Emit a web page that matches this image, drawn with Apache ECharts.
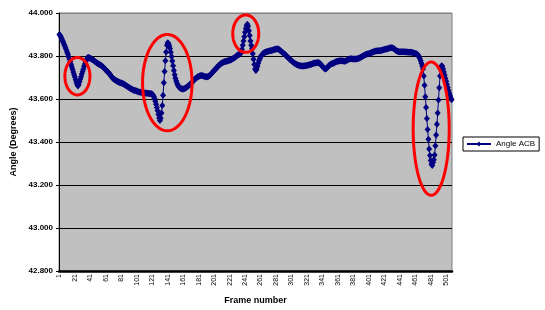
<!DOCTYPE html>
<html>
<head>
<meta charset="utf-8">
<script src="https://cdn.jsdelivr.net/npm/echarts@6/dist/echarts.min.js"></script>
<style>
html,body{margin:0;padding:0;background:#fff;}
#c{width:545px;height:310px;}
</style>
</head>
<body>
<div id="c"></div>
<script>
// Angle ACB (degrees) for each frame
const angleACB = [
43.900,43.895,43.888,43.880,43.872,43.864,43.855,43.846,43.837,43.828,
43.818,43.808,43.797,43.786,43.774,43.762,43.750,43.738,43.726,43.714,
43.702,43.690,43.678,43.667,43.660,43.668,43.680,43.692,43.704,43.716,
43.728,43.740,43.752,43.763,43.773,43.782,43.789,43.794,43.793,43.791,
43.789,43.787,43.785,43.783,43.780,43.778,43.775,43.772,43.769,43.767,
43.764,43.762,43.760,43.758,43.756,43.753,43.750,43.747,43.743,43.739,
43.735,43.731,43.728,43.725,43.721,43.716,43.711,43.706,43.701,43.697,
43.694,43.691,43.688,43.686,43.684,43.682,43.680,43.678,43.677,43.676,
43.675,43.673,43.672,43.670,43.668,43.665,43.663,43.660,43.658,43.656,
43.654,43.651,43.649,43.647,43.645,43.643,43.641,43.640,43.639,43.638,
43.637,43.635,43.634,43.633,43.632,43.631,43.630,43.630,43.629,43.629,
43.628,43.628,43.627,43.627,43.627,43.626,43.626,43.626,43.625,43.624,
43.622,43.619,43.612,43.602,43.590,43.576,43.561,43.545,43.528,43.512,
43.500,43.510,43.535,43.570,43.618,43.676,43.728,43.778,43.819,43.850,
43.862,43.858,43.848,43.835,43.818,43.798,43.777,43.755,43.733,43.713,
43.697,43.684,43.673,43.665,43.659,43.654,43.651,43.649,43.648,43.647,
43.647,43.648,43.649,43.651,43.653,43.656,43.659,43.662,43.665,43.668,
43.672,43.676,43.680,43.684,43.688,43.692,43.695,43.698,43.701,43.703,
43.705,43.707,43.708,43.709,43.709,43.708,43.707,43.706,43.705,43.704,
43.703,43.703,43.704,43.706,43.709,43.712,43.716,43.720,43.724,43.728,
43.732,43.736,43.740,43.744,43.748,43.752,43.756,43.759,43.762,43.765,
43.767,43.769,43.771,43.773,43.774,43.775,43.776,43.777,43.778,43.779,
43.780,43.781,43.783,43.785,43.787,43.789,43.791,43.794,43.797,43.800,
43.803,43.806,43.806,43.809,43.812,43.815,43.830,43.850,43.870,43.890,
43.910,43.928,43.942,43.948,43.938,43.918,43.895,43.870,43.850,43.835,
43.810,43.785,43.760,43.740,43.733,43.740,43.752,43.766,43.778,43.787,
43.795,43.801,43.806,43.810,43.813,43.816,43.818,43.819,43.820,43.821,
43.822,43.823,43.824,43.825,43.826,43.827,43.828,43.829,43.830,43.831,
43.832,43.833,43.833,43.832,43.830,43.827,43.824,43.821,43.818,43.815,
43.812,43.809,43.806,43.802,43.798,43.795,43.791,43.788,43.784,43.781,
43.778,43.775,43.772,43.769,43.766,43.764,43.762,43.760,43.758,43.757,
43.756,43.755,43.755,43.754,43.754,43.754,43.754,43.755,43.755,43.756,
43.756,43.757,43.758,43.759,43.760,43.761,43.762,43.764,43.765,43.766,
43.767,43.768,43.769,43.769,43.770,43.769,43.767,43.764,43.760,43.756,
43.752,43.748,43.744,43.741,43.740,43.742,43.745,43.749,43.753,43.757,
43.760,43.762,43.764,43.765,43.766,43.768,43.770,43.772,43.774,43.775,
43.776,43.777,43.777,43.778,43.778,43.778,43.778,43.777,43.776,43.776,
43.777,43.779,43.781,43.783,43.785,43.786,43.787,43.787,43.787,43.786,
43.786,43.786,43.786,43.786,43.786,43.787,43.788,43.789,43.791,43.793,
43.795,43.797,43.799,43.801,43.803,43.805,43.807,43.808,43.809,43.810,
43.811,43.812,43.814,43.815,43.817,43.818,43.820,43.821,43.822,43.823,
43.823,43.824,43.824,43.825,43.825,43.826,43.826,43.827,43.828,43.829,
43.830,43.831,43.832,43.833,43.834,43.835,43.836,43.837,43.838,43.838,
43.838,43.837,43.835,43.832,43.829,43.826,43.824,43.822,43.821,43.820,
43.820,43.820,43.820,43.820,43.820,43.820,43.820,43.820,43.819,43.819,
43.819,43.818,43.818,43.818,43.817,43.817,43.816,43.815,43.814,43.813,
43.812,43.811,43.809,43.806,43.802,43.796,43.788,43.778,43.766,43.754,
43.740,43.707,43.664,43.611,43.561,43.509,43.458,43.413,43.367,43.337,
43.314,43.298,43.291,43.305,43.318,43.340,43.383,43.432,43.482,43.535,
43.595,43.652,43.707,43.740,43.755,43.752,43.740,43.726,43.712,43.697,
43.682,43.668,43.654,43.640,43.627,43.615,43.605,43.597
];
// Frame numbers (categories): 1 .. number of samples
const frames = angleACB.map((_, i) => String(i + 1));
// Value axis range and tick labels
const yMin = 42.8, yMax = 44.0, yStep = 0.2;
const yTickLabels = ['42.800','43.000','43.200','43.400','43.600','43.800','44.000'];
const seriesName = 'Angle ACB';
const xTitle = 'Frame number';
const yTitle = 'Angle (Degrees)';
// Red annotation ellipses: [centre frame, centre angle, half-width in frames, half-height in degrees]
const highlights = [
  [24.3, 43.706, 16.2, 0.087],
  [140.5, 43.676, 32.0, 0.224],
  [241.9, 43.904, 16.8, 0.087],
  [481.6, 43.462, 23.3, 0.310]
];

const FONT = 'Liberation Sans';
const chart = echarts.init(document.getElementById('c'), null, {renderer: 'canvas'});
const option = {
  animation: false,
  backgroundColor: '#ffffff',
  textStyle: {fontFamily: FONT},
  grid: {
    left: 59, right: 93, top: 13, bottom: 34,
    show: true, backgroundColor: '#C0C0C0', borderColor: '#808080', borderWidth: 1
  },
  legend: {
    left: 463, top: 137,
    padding: [3, 4, 3, 3],
    borderColor: '#000', borderWidth: 1,
    itemWidth: 24, itemHeight: 6,
    textStyle: {fontFamily: FONT, fontSize: 8, color: '#000'},
    data: [seriesName]
  },
  xAxis: {
    type: 'category',
    data: frames,
    boundaryGap: true,
    name: xTitle, nameLocation: 'middle', nameGap: 25,
    nameTextStyle: {fontFamily: FONT, fontSize: 9, fontWeight: 'bold', color: '#000'},
    axisLine: {show: true, lineStyle: {color: '#000', width: 2.5}},
    axisTick: {show: false},
    axisLabel: {interval: 19, rotate: 90, fontSize: 7, color: '#000', margin: 3, fontFamily: FONT},
    splitLine: {show: false}
  },
  yAxis: {
    type: 'value',
    min: yMin, max: yMax, interval: yStep,
    name: yTitle, nameLocation: 'middle', nameGap: 38, nameRotate: 90,
    nameTextStyle: {fontFamily: FONT, fontSize: 9, fontWeight: 'bold', color: '#000'},
    axisLine: {show: true, lineStyle: {color: '#000', width: 1}},
    axisTick: {show: true, inside: false, length: 3, lineStyle: {color: '#000'}},
    axisLabel: {
      fontSize: 8, fontWeight: 'bold', color: '#000', margin: 6, fontFamily: FONT,
      formatter: (v) => {
        const i = Math.round((v - yMin) / yStep);
        return yTickLabels[i] !== undefined ? yTickLabels[i] : v.toFixed(3);
      }
    },
    splitLine: {show: true, lineStyle: {color: ['#000','#000','#000','#000','#000','#000','#808080'], width: 1}}
  },
  series: [{
    name: seriesName,
    type: 'line',
    data: angleACB,
    symbol: 'diamond',
    symbolSize: [6, 7],
    showSymbol: true,
    showAllSymbol: true,
    lineStyle: {color: '#000080', width: 1},
    itemStyle: {color: '#000080', borderWidth: 0},
    z: 5
  }]
};
chart.setOption(option);

function drawHighlights() {
  const n = frames.length;
  const xa = chart.convertToPixel({xAxisIndex: 0}, frames[0]);
  const xb = chart.convertToPixel({xAxisIndex: 0}, frames[n - 1]);
  const step = (xb - xa) / (n - 1);
  const xPix = (f) => xa + (f - 1) * step;
  const yPix = (v) => chart.convertToPixel({yAxisIndex: 0}, v);
  const graphics = highlights.map((h) => {
    const pts = [];
    for (let k = 0; k < 90; k++) {
      const t = 2 * Math.PI * k / 90;
      pts.push([xPix(h[0] + h[2] * Math.cos(t)), yPix(h[1] + h[3] * Math.sin(t))]);
    }
    return {
      type: 'polygon', z: 100, silent: true,
      shape: {points: pts},
      style: {fill: null, stroke: '#FF0000', lineWidth: 3}
    };
  });
  chart.setOption({graphic: graphics});
}
drawHighlights();
</script>
</body>
</html>
